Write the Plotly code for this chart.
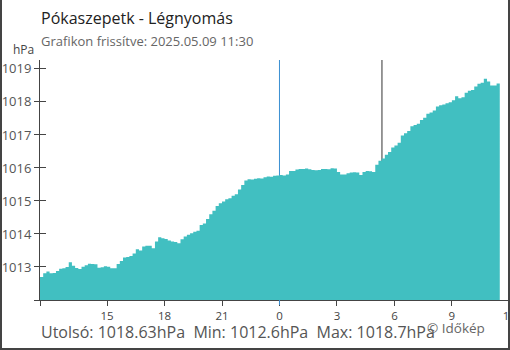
import plotly.graph_objects as go
import pandas as pd

# ---- data ----
start_time = "2025-05-08 11:30"
step_minutes = 10
pressure = [
    1012.70, 1012.81, 1012.86, 1012.81, 1012.82, 1012.88, 1012.95, 1012.96, 1013.00, 1013.14,
    1013.04, 1012.97, 1012.94, 1013.01, 1013.05, 1013.10, 1013.09, 1013.08, 1012.98, 1012.99,
    1013.02, 1013.01, 1012.96, 1012.96, 1013.09, 1013.18, 1013.29, 1013.30, 1013.33, 1013.41,
    1013.54, 1013.50, 1013.62, 1013.64, 1013.64, 1013.57, 1013.77, 1013.90, 1013.87, 1013.85,
    1013.80, 1013.77, 1013.76, 1013.72, 1013.84, 1013.92, 1013.98, 1014.02, 1014.07, 1014.10,
    1014.27, 1014.32, 1014.45, 1014.60, 1014.70, 1014.85, 1014.93, 1014.98, 1015.05, 1015.08,
    1015.16, 1015.20, 1015.35, 1015.48, 1015.62, 1015.66, 1015.65, 1015.67, 1015.69, 1015.68,
    1015.72, 1015.74, 1015.73, 1015.76, 1015.77, 1015.79, 1015.77, 1015.80, 1015.91, 1015.91,
    1015.95, 1015.97, 1015.97, 1015.98, 1015.96, 1015.94, 1015.93, 1015.94, 1015.97, 1015.97,
    1015.96, 1015.99, 1015.98, 1015.88, 1015.80, 1015.80, 1015.84, 1015.86, 1015.87, 1015.86,
    1015.79, 1015.88, 1015.91, 1015.90, 1015.88, 1016.10, 1016.22, 1016.29, 1016.40, 1016.48,
    1016.62, 1016.68, 1016.76, 1016.98, 1017.05, 1017.12, 1017.26, 1017.30, 1017.34, 1017.45,
    1017.52, 1017.64, 1017.68, 1017.74, 1017.86, 1017.90, 1017.92, 1017.96, 1017.99, 1018.05,
    1018.17, 1018.11, 1018.14, 1018.28, 1018.34, 1018.36, 1018.47, 1018.55, 1018.58, 1018.70,
    1018.62, 1018.50, 1018.50, 1018.56, 1018.63,
]
times = pd.date_range(start_time, periods=len(pressure), freq=f"{step_minutes}min")

x_tick_vals = ["2025-05-08 11:30", "2025-05-08 15:00", "2025-05-08 18:00", "2025-05-08 21:00",
               "2025-05-09 00:00", "2025-05-09 03:00", "2025-05-09 06:00", "2025-05-09 09:00",
               "2025-05-09 12:00"]
x_tick_text = ["", "15", "18", "21", "0", "3", "6", "9", "12"]
y_tick_vals = [1012, 1013, 1014, 1015, 1016, 1017, 1018, 1019]
y_tick_text = ["", "1013", "1014", "1015", "1016", "1017", "1018", "1019"]
x_range = ["2025-05-08 11:30", "2025-05-09 12:02"]
y_range = [1012, 1019.27]
midnight = "2025-05-09 00:00"
sunrise = "2025-05-09 05:21"

title = "Pókaszepetk - Légnyomás"
subtitle = "Grafikon frissítve: 2025.05.09 11:30"
unit = "hPa"
summary = "Utolsó: 1018.63hPa&nbsp;&nbsp;Min: 1012.6hPa&nbsp;&nbsp;Max: 1018.7hPa"
credit = "© Időkép"

FONT = "Open Sans"
TEAL = "#41bfc1"

fig = go.Figure()
fig.add_trace(go.Scatter(
    x=times, y=pressure, mode="lines", line=dict(color=TEAL, width=0, shape="hv"),
    fill="tozeroy", fillcolor=TEAL, hoverinfo="skip",
))
# invisible trace to anchor overlay axis
fig.add_trace(go.Scatter(x=[times[0]], y=[pressure[0]], yaxis="y2", mode="markers",
                         marker=dict(opacity=0), hoverinfo="skip", showlegend=False))

W, H = 510, 350
L, R, T, B = 40, 0, 60, 50
pw, ph = W - L - R, H - T - B


def px(xp):
    return (xp - L) / pw


def py(yp):
    return (H - B - yp) / ph


shapes = [
    dict(type="line", xref="x", yref="paper", x0=midnight, x1=midnight, y0=0, y1=1,
         line=dict(color="#3a8fd2", width=1), layer="below"),
    dict(type="line", xref="x", yref="paper", x0=midnight, x1=midnight, y0=py(305), y1=0,
         line=dict(color="#3a8fd2", width=1), layer="above"),
    dict(type="line", xref="x", yref="paper", x0=sunrise, x1=sunrise, y0=0, y1=1,
         line=dict(color="#333333", width=1), layer="below"),
    # frame
    dict(type="line", xref="paper", yref="paper", x0=px(1), x1=px(1), y0=py(0), y1=py(350),
         line=dict(color="#444444", width=2)),
    dict(type="line", xref="paper", yref="paper", x0=px(509), x1=px(509), y0=py(0), y1=py(350),
         line=dict(color="#444444", width=2)),
    dict(type="line", xref="paper", yref="paper", x0=px(0), x1=px(510), y0=py(349), y1=py(349),
         line=dict(color="#444444", width=2)),
]

annotations = [
    dict(text=title, x=px(39), y=py(18), xref="paper", yref="paper", xanchor="left",
         yanchor="middle", showarrow=False, font=dict(family=FONT, size=16, color="#222222")),
    dict(text=subtitle, x=px(39), y=py(41), xref="paper", yref="paper", xanchor="left",
         yanchor="middle", showarrow=False, font=dict(family=FONT, size=13, color="#666666")),
    dict(text=unit, x=px(36), y=py(50), xref="paper", yref="paper", xanchor="right",
         yanchor="middle", showarrow=False, font=dict(family=FONT, size=12, color="#444444")),
    dict(text=summary, x=px(39), y=py(332), xref="paper", yref="paper", xanchor="left",
         yanchor="middle", showarrow=False, font=dict(family=FONT, size=16, color="#555555")),
    dict(text=credit, x=px(425), y=py(328), xref="paper", yref="paper", xanchor="left",
         yanchor="middle", showarrow=False, font=dict(family=FONT, size=13.5, color="#666666")),
]

fig.update_layout(
    width=W, height=H,
    margin=dict(l=L, r=R, t=T, b=B, pad=0, autoexpand=False),
    paper_bgcolor="white", plot_bgcolor="white",
    showlegend=False,
    font=dict(family=FONT, color="#555555"),
    xaxis=dict(
        type="date", range=x_range, tickmode="array", tickvals=x_tick_vals, ticktext=x_tick_text,
        showgrid=False, zeroline=False, showline=True, linecolor="#444444", linewidth=1,
        ticks="outside", ticklen=5, tickcolor="#444444", tickwidth=1, automargin=False,
        tickfont=dict(family=FONT, size=11.5, color="#444444"), ticklabeloverflow="allow",
    ),
    yaxis=dict(
        range=y_range, tickmode="array", tickvals=y_tick_vals, ticktext=y_tick_text,
        showgrid=False, zeroline=False, showline=True, linecolor="#444444", linewidth=1,
        ticks="outside", ticklen=5, tickcolor="#444444", tickwidth=1, automargin=False,
        tickfont=dict(family=FONT, size=13, color="#555555"),
    ),
    yaxis2=dict(
        range=y_range, overlaying="y", side="left", tickmode="array", tickvals=y_tick_vals,
        showticklabels=False, showgrid=False, zeroline=False, showline=False, automargin=False,
        ticks="inside", ticklen=6, tickcolor="#444444", tickwidth=1,
    ),
    shapes=shapes, annotations=annotations,
)

fig.write_html("out.html")
